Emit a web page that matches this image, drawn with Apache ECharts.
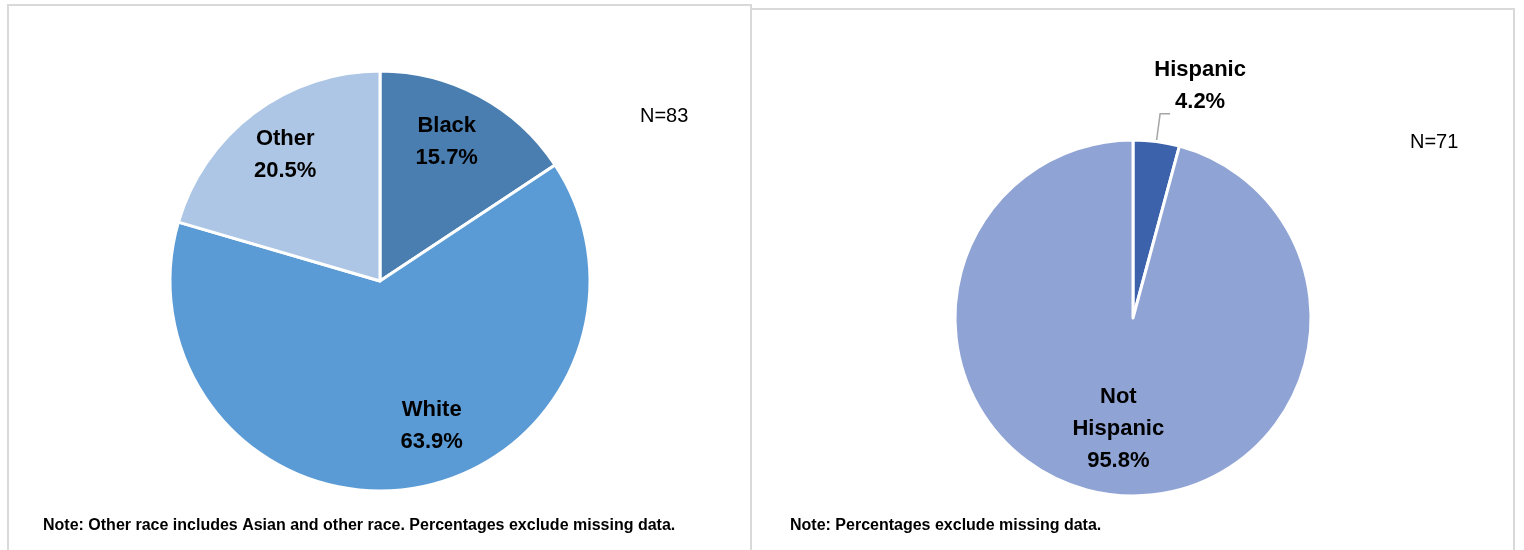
<!DOCTYPE html>
<html><head><meta charset="utf-8">
<script src="https://cdn.jsdelivr.net/npm/echarts@6/dist/echarts.min.js"></script>
<style>html,body{margin:0;padding:0;background:#fff}#c{width:1524px;height:550px}</style>
</head><body><div id="c"></div>
<script>
const raceCategories = ['Black', 'White', 'Other'];
const raceValues = [15.7, 63.9, 20.5];
const raceColors = ['#4a7eb0', '#5b9bd5', '#adc6e5'];
const raceN = 'N=83';
const raceNote = 'Note: Other race includes Asian and other race. Percentages exclude missing data.';

const ethCategories = ['Hispanic', 'Not Hispanic'];
const ethLabels = ['Hispanic', 'Not\nHispanic'];
const ethValues = [4.2, 95.8];
const ethColors = ['#3c62ab', '#8fa3d4'];
const ethN = 'N=71';
const ethNote = 'Note: Percentages exclude missing data.';

const FONT = '"Liberation Sans", Arial, sans-serif';
const labelStyle = {fontFamily: FONT, fontWeight: 'bold', fontSize: 22, lineHeight: 32, color: '#000'};

const chart = echarts.init(document.getElementById('c'), null, {renderer: 'canvas'});

const raceData = raceCategories.map((c, i) => ({name: c, value: raceValues[i], itemStyle: {color: raceColors[i]}}));
const ethData = ethCategories.map((c, i) => ({name: c, value: ethValues[i], itemStyle: {color: ethColors[i]}}));

const fmt = p => p.data.label_ + '\n' + p.value.toFixed(1) + '%';
const fmtCentered = p => p.data.label_.split('\n').concat([p.value.toFixed(1) + '%']).map(s => '{c|' + s + '}').join('\n');

chart.setOption({
  animation: false,
  graphic: [
    {type: 'rect', shape: {x: 8, y: 5, width: 743, height: 560}, style: {fill: 'none', stroke: '#d9d9d9', lineWidth: 2}, silent: true},
    {type: 'rect', shape: {x: 751, y: 9, width: 763, height: 560}, style: {fill: 'none', stroke: '#d9d9d9', lineWidth: 2}, silent: true},
    {type: 'text', left: 640, top: 106, style: {text: raceN, font: '20px ' + FONT, fill: '#000'}},
    {type: 'text', left: 1410, top: 132, style: {text: ethN, font: '20px ' + FONT, fill: '#000'}},
    {type: 'text', left: 43, top: 518, style: {text: raceNote, font: 'bold 16px ' + FONT, fill: '#000'}},
    {type: 'text', left: 790, top: 518, style: {text: ethNote, font: 'bold 16px ' + FONT, fill: '#000'}}
  ],
  series: [
    {
      type: 'pie', center: [380, 281], radius: [0, 210], startAngle: 90, clockwise: true,
      data: raceData, label: {show: false}, labelLine: {show: false},
      itemStyle: {borderColor: '#fff', borderWidth: 3}, silent: true
    },
    {
      type: 'pie', center: [380, 281], radius: [0, 310], startAngle: 90, clockwise: true,
      data: raceCategories.map((c, i) => ({name: c, value: raceValues[i], label_: c, itemStyle: {color: 'rgba(0,0,0,0)'}})),
      label: Object.assign({show: true, position: 'inside', formatter: fmt}, labelStyle),
      labelLine: {show: false}, silent: true,
      labelLayout: p => p.dataIndex === 1 ? {dx: 28, dy: -11} : (p.dataIndex === 0 ? {dx: -8} : {})
    },
    {
      type: 'pie', center: [1133, 318], radius: [0, 178], startAngle: 90, clockwise: true,
      data: ethData.map((d, i) => Object.assign({}, d, {label_: ethLabels[i],
        label: i === 0 ? {show: true} : {show: false}, labelLine: i === 0 ? {show: true} : {show: false}})),
      label: Object.assign({position: 'outside', formatter: fmtCentered,
        rich: {c: {fontFamily: FONT, fontWeight: 'bold', fontSize: 22, lineHeight: 32, color: '#000', width: 94, align: 'center'}}}, labelStyle),
      labelLine: {length: 28, length2: 10, lineStyle: {color: '#a6a6a6', width: 1.5}},
      itemStyle: {borderColor: '#fff', borderWidth: 3}, silent: true,
      labelLayout: p => p.dataIndex === 0 ? {dx: -22, dy: -28} : {}
    },
    {
      type: 'pie', center: [1133, 318], radius: [0, 217], startAngle: 90, clockwise: true,
      data: ethCategories.map((c, i) => ({name: c, value: ethValues[i], label_: ethLabels[i], itemStyle: {color: 'rgba(0,0,0,0)'},
        label: {show: i === 1}})),
      label: Object.assign({position: 'inside', formatter: fmt}, labelStyle),
      labelLine: {show: false}, silent: true
    }
  ]
});
</script></body></html>
